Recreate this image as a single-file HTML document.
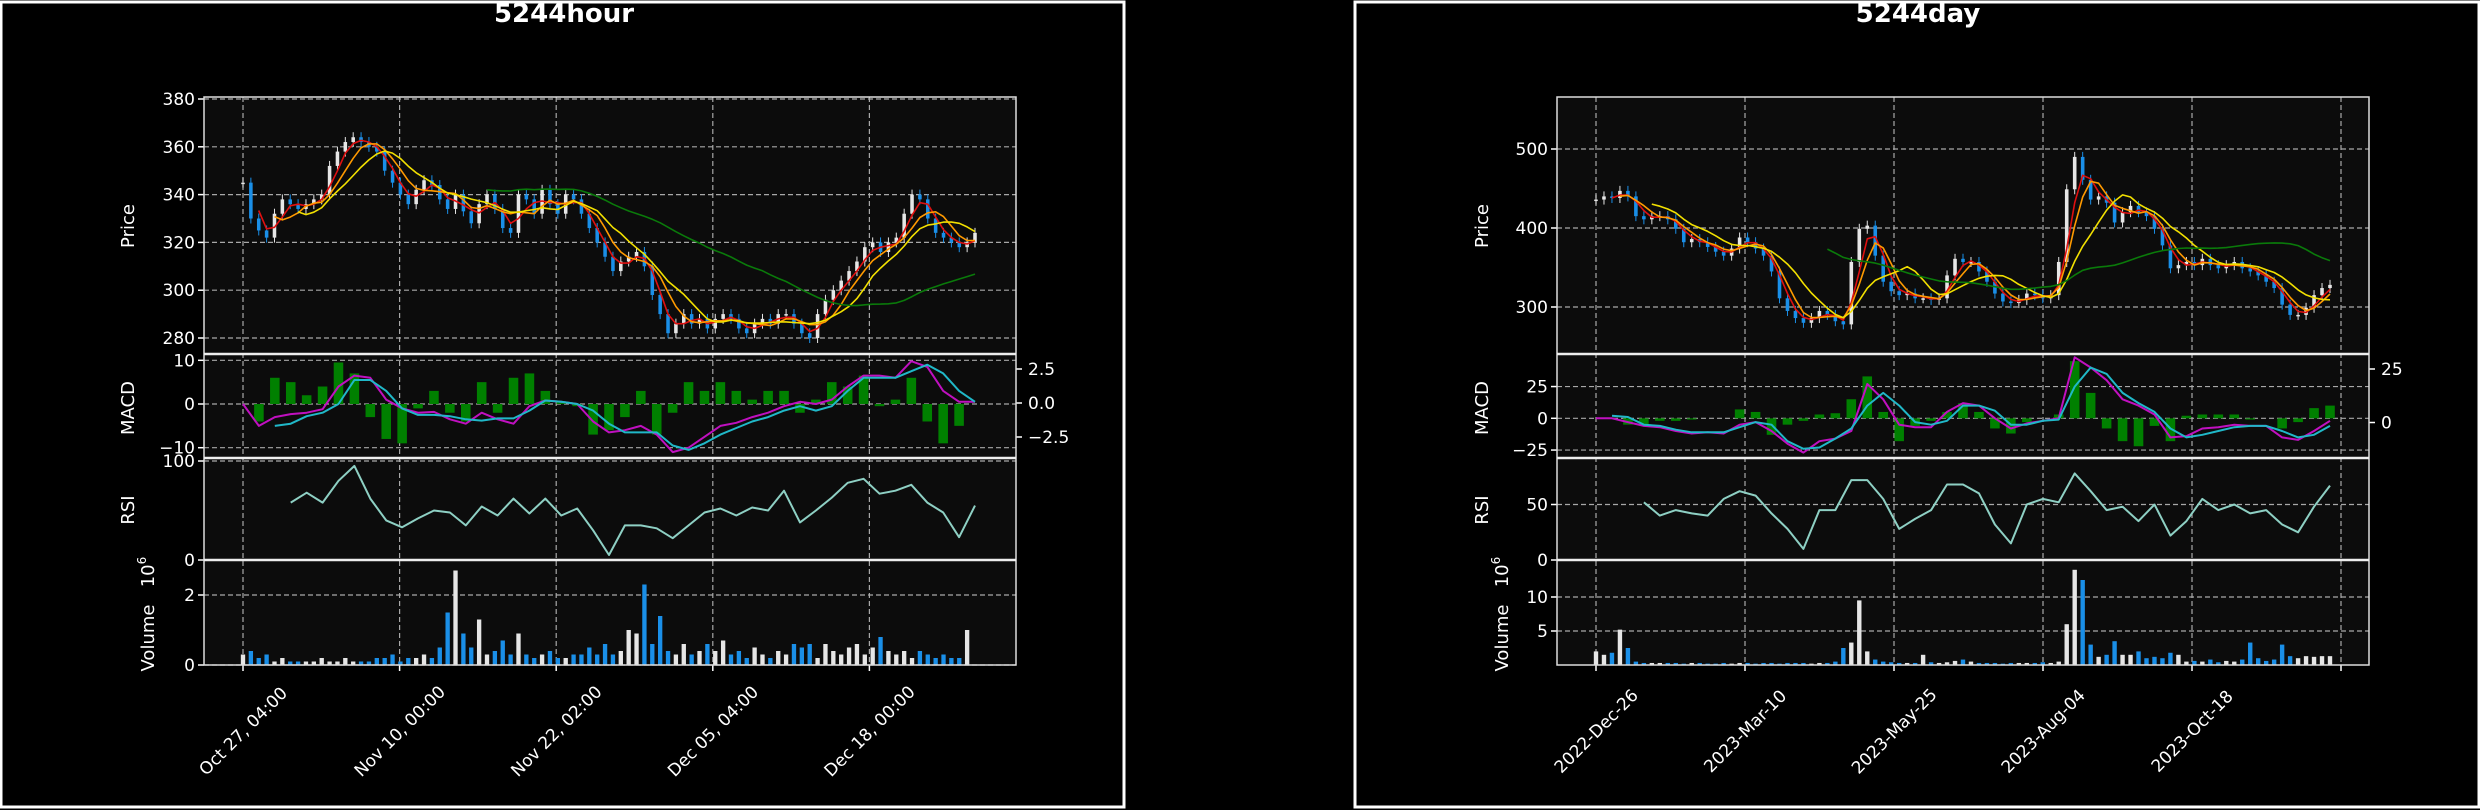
<!DOCTYPE html>
<html><head><meta charset="utf-8"><title>5244 charts</title>
<style>
html,body{margin:0;padding:0;background:#000;}
svg{display:block;font-family:"DejaVu Sans","Liberation Sans",sans-serif;}
</style></head>
<body>
<svg id="svg" width="2480" height="810" viewBox="0 0 2480 810" xmlns="http://www.w3.org/2000/svg">
<rect x="0" y="0" width="2480" height="810" fill="#000"/>
</svg>
<script>
// ---------- Hourly chart data ----------
const hClose=[345,330,325,322,332,338,336,334,336,338,340,352,358,362,364,362,360,358,350,345,340,336,342,346,344,338,334,340,333,328,336,340,334,326,324,340,338,332,342,336,332,340,338,332,326,320,314,308,312,314,316,310,298,290,282,286,290,286,288,284,288,290,288,284,282,286,288,286,290,290,286,282,280,290,296,300,304,308,312,318,320,316,320,322,332,340,338,330,324,322,320,318,320,324];
const hVol=[0.3,0.4,0.2,0.3,0.1,0.2,0.1,0.1,0.1,0.1,0.2,0.1,0.1,0.2,0.1,0.1,0.1,0.2,0.2,0.3,0.1,0.2,0.2,0.3,0.2,0.5,1.5,2.7,0.9,0.5,1.3,0.3,0.4,0.7,0.3,0.9,0.3,0.2,0.3,0.4,0.2,0.2,0.3,0.3,0.5,0.3,0.6,0.3,0.4,1.0,0.9,2.3,0.6,1.4,0.4,0.3,0.6,0.3,0.4,0.6,0.4,0.7,0.3,0.4,0.2,0.5,0.3,0.2,0.4,0.3,0.6,0.5,0.6,0.2,0.6,0.4,0.3,0.5,0.6,0.3,0.5,0.8,0.4,0.3,0.4,0.2,0.4,0.3,0.2,0.3,0.2,0.2,1.0];
const hMacd=[0,-5,-3,-2.3,-2,-1.2,4,6.5,6,1,-1,-2,-1.8,-3.5,-4.5,-2,-3.5,-4.5,-0.5,0.8,0.5,0,-4,-6.5,-6,-5,-7,-11,-10,-7.5,-5,-4.3,-3,-2,-0.5,0.5,0,1,4,6.5,6.5,6,9.8,8.5,3,0.5,0.5];
const hSignal=[null,null,-5,-4.5,-2.8,-2,0,5.5,5.5,3,-1,-2.5,-2.5,-2.8,-3.5,-3.8,-3.3,-3.3,-1.5,0.8,0.5,0,-1.5,-4.5,-6.5,-6.5,-6.5,-9.5,-10.5,-9,-7,-5.5,-4,-3,-1.5,-0.5,-1.5,-0.5,3,6,6,6,7.5,9,7,3,0.5];
const hHist=[0,-4,6,5,2,4,9.5,7,-3,-8,-9,-1,3,-2,-4,5,-2,6,7,3,0.5,-0.5,-7,-6,-3,3,-7,-2,5,3,5,3,1,3,3,-2,1,5,4,6.5,-0.5,1,6,-4,-9,-5,0];
const hRsi=[null,null,null,58,68,58,80,95,62,40,33,42,50,48,35,54,45,62,47,62,45,52,30,5,35,35,32,22,35,48,52,45,53,50,70,38,50,63,78,82,67,70,76,58,48,23,55];
const hXTicks=["Oct 27, 04:00","Nov 10, 00:00","Nov 22, 02:00","Dec 05, 04:00","Dec 18, 00:00"];
const hPriceTicks=[280,300,320,340,360,380];
const hMacdTicks=[-10,0,10];
const hMacdRTicks=["2.5","0.0","\u22122.5"];
const hRsiTicks=[0,100];
const hVolTicks=[0,2];

// ---------- Daily chart data ----------
const dClose=[436,440,438,447,440,415,411,415,415,411,399,382,386,382,376,370,365,374,388,382,374,365,345,311,295,286,280,286,295,290,282,278,357,399,403,365,332,320,315,317,311,311,309,311,340,361,357,357,345,332,317,307,305,309,317,315,311,315,357,449,490,461,436,440,432,407,420,428,420,415,399,378,349,353,357,353,361,353,349,353,357,349,345,340,332,324,303,290,290,299,315,324,328];
const dVol=[2.0,1.5,1.8,5.2,2.5,0.5,0.3,0.3,0.3,0.3,0.3,0.2,0.3,0.3,0.2,0.2,0.3,0.2,0.3,0.3,0.2,0.3,0.3,0.2,0.3,0.3,0.3,0.2,0.3,0.3,0.5,2.5,3.3,9.5,2.0,0.8,0.5,0.4,0.3,0.3,0.3,1.5,0.4,0.3,0.4,0.6,0.8,0.5,0.3,0.3,0.3,0.2,0.3,0.3,0.3,0.3,0.4,0.3,0.5,6.0,14.0,12.5,3.0,1.2,1.5,3.5,1.5,1.5,2.0,1.0,1.2,1.0,1.8,1.5,0.5,0.6,0.5,0.8,0.4,0.6,0.5,0.8,3.3,1.0,0.6,0.8,3.0,1.3,1.0,1.3,1.2,1.3,1.3];
const dMacd=[0,0,-3,-6,-7,-10,-12,-11,-12,-5,-3,-10,-20,-27,-18,-16,-10,27,15,-5,-7,-7,5,12,10,0,-8,-4,-2,0,48,40,30,15,10,3,-15,-14,-8,-7,-5,-6,-6,-15,-17,-10,-2];
const dSignal=[null,2,1,-5,-6,-9,-11,-11,-11,-7,-3,-5,-18,-24,-23,-16,-8,10,20,10,-3,-5,-2,10,10,6,-5,-5,-2,-1,25,40,35,20,12,5,-8,-15,-13,-10,-7,-6,-6,-10,-15,-13,-6];
const dHist=[0,0,-5,-5,-2,-2,-1,0,0,7,5,-13,-5,-2,3,4,15,33,5,-18,-6,-2,5,12,5,-8,-12,-3,0,3,45,20,-8,-18,-22,-6,-18,2,3,3,3,-1,0,-8,-3,8,10];
const dRsi=[null,null,null,52,40,45,42,40,55,62,58,42,28,10,45,45,72,72,55,28,37,45,68,68,60,32,15,50,55,52,78,62,45,48,35,50,22,35,55,45,50,42,45,32,25,48,67];
const dXTicks=["2022-Dec-26","2023-Mar-10","2023-May-25","2023-Aug-04","2023-Oct-18",""];
const dPriceTicks=[300,400,500];
const dMacdTicks=[-25,0,25];
const dMacdRTicks=["25","0"];
const dRsiTicks=[0,50];
const dVolTicks=[5,10];

const NS="http://www.w3.org/2000/svg";
const svg=document.getElementById('svg');
function mk(tag,attrs,parent){const e=document.createElementNS(NS,tag);for(const k in attrs)e.setAttribute(k,attrs[k]);(parent||svg).appendChild(e);return e;}
function txt(s,attrs,parent){const e=mk('text',attrs,parent);e.textContent=s;return e;}
function rolling(a,w){return a.map((v,i)=>{if(i<w-1)return null;let s=0;for(let j=i-w+1;j<=i;j++)s+=a[j];return s/w;});}

const P={price:[97,354],macd:[354,458],rsi:[458,560],vol:[560,665]};
const UP='#e6e6e6',DOWN='#1a8fe8';

function chart(c){
  const g=mk('g',{});
  
  
  const fr=mk('rect',{x:c.frame[0],y:2,width:c.frame[1]-c.frame[0],height:805,fill:'none',stroke:'#fff','stroke-width':3},g);
  
  
  const t=txt(c.title,{x:c.titleX,y:22,'text-anchor':'middle','font-size':26,'font-weight':'bold',fill:'#fff'},g);
  
  
  const L=c.ax[0],R=c.ax[1];
  for(const k in P){const r=mk('rect',{x:L,y:P[k][0],width:R-L,height:P[k][1]-P[k][0],fill:'#0c0c0c'},g);
    
    }
  const N=c.close.length;
  const xi=i=>c.x0+i*(c.x1-c.x0)/(N-1);
  const xk=(i,n)=>c.x0+i*(c.x1-c.x0)/(n-1);
  const grid=(x1,y1,x2,y2)=>{const l=mk('line',{x1,y1,x2,y2,stroke:'#a8a8a8','stroke-width':1.2,'stroke-dasharray':'5,3'},g);};
  c.xt.forEach((lab,i)=>{const x=c.xt0+i*c.xtStep;
    grid(x,97,x,665);
    mk('line',{x1:x,y1:665,x2:x,y2:671,stroke:'#fff','stroke-width':1.5},g);
    if(lab){const tl=txt(lab,{x:x,y:737,'text-anchor':'middle','font-size':17,fill:'#fff',transform:`rotate(-45 ${x} 731)`},g);
      
      }
  });
  const yTicks=(ticks,fy)=>{ticks.forEach((v)=>{const y=fy(v);
      grid(L,y,R,y);
      mk('line',{x1:L-6,y1:y,x2:L,y2:y,stroke:'#fff','stroke-width':1.5},g);
      const tl=txt(String(v).replace('-','\u2212'),{x:L-9,y:y+6,'text-anchor':'end','font-size':17,fill:'#fff'},g);
      
      
  });};
  const yP=c.yP,yM=c.yM,yRs=c.yR,yV=c.yV;
  yTicks(c.pt,yP);yTicks(c.mt,yM);yTicks(c.rt,yRs);yTicks(c.vt,yV);
  c.mrt.forEach((s,i)=>{const y=c.mrtY[i];
    mk('line',{x1:R,y1:y,x2:R+6,y2:y,stroke:'#fff','stroke-width':1.5},g);
    const tl=txt(s,{x:R+12,y:y+6,'font-size':17,fill:'#fff'},g);
    
    });
  const bw=Math.max(2,(c.x1-c.x0)/(N-1)*0.45);
  c.close.forEach((cl,i)=>{const op=i?c.close[i-1]:cl;const up=cl>=op;
    const y1=yP(Math.max(op,cl)),y2=yP(Math.min(op,cl));
    const col=up?UP:DOWN;
    const wk=mk('line',{x1:xi(i),x2:xi(i),y1:y1-5,y2:y2+5,stroke:col,'stroke-width':1},g);
    
    
    const b=mk('rect',{x:xi(i)-bw/2,y:y1,width:bw,height:Math.max(1.5,y2-y1),fill:col},g);
    
    
  });
  const line=(arr,xf,yf,col,w,name)=>{let d='',pen=false;arr.forEach((v,i)=>{if(v==null){pen=false;return;}d+=(pen?'L':'M')+xf(i).toFixed(1)+','+yf(v).toFixed(1);pen=true;});
    const p=mk('path',{d,fill:'none',stroke:col,'stroke-width':w,'stroke-linejoin':'round'},g);
    
    };
  const mac=['#e01010','#ff9a00','#f2e000','#0a7a0a'];
  c.maw.forEach((w,j)=>line(rolling(c.close,w),xi,yP,mac[j],1.6,'moving-average-'+w));
  const nh=c.hist.length;const hw=(c.x1-c.x0)/(nh-1)*0.6;
  c.hist.forEach((v,i)=>{const y0=yM(0),y=yM(v);
    const b=mk('rect',{x:xk(i,nh)-hw/2,y:Math.min(y0,y),width:hw,height:Math.abs(y-y0),fill:'#008000'},g);
    
    });
  line(c.macd,i=>xk(i,c.macd.length),yM,'#c010c0',2,'macd-line');
  line(c.signal,i=>xk(i,c.signal.length),yM,'#20b8c8',2,'signal-line');
  line(c.rsi,i=>xk(i,c.rsi.length),yRs,'#8ed0c4',2,'rsi-line');
  const vw=Math.max(2,(c.x1-c.x0)/(N-1)*0.55);
  c.vol.forEach((v,i)=>{const op=i?c.close[i-1]:c.close[i];const up=c.close[i]>=op;
    const b=mk('rect',{x:xi(i)-vw/2,y:yV(v),width:vw,height:yV(0)-yV(v),fill:up?UP:DOWN},g);
    
    });
  const br=mk('rect',{x:L,y:97,width:R-L,height:568,fill:'none',stroke:'#ddd','stroke-width':1.5},g);
  
  
  [354,458,560].forEach(y=>{const s=mk('line',{x1:L,y1:y,x2:R,y2:y,stroke:'#eee','stroke-width':2.5},g);
    
    });
  const lab=(s,x,y,name)=>{const e=txt(s,{x,y,'text-anchor':'middle','font-size':18,fill:'#fff',transform:`rotate(-90 ${x} ${y})`},g);
    
    };
  lab('Price',c.labX+6,226,'price-axis-title');
  lab('MACD',c.labX+6,408,'macd-axis-title');
  lab('RSI',c.labX+6,510,'rsi-axis-title');
  lab('Volume',c.labX+26,638,'volume-axis-title');
  const e=txt('10',{x:c.labX+26,y:572,'text-anchor':'middle','font-size':18,fill:'#fff',transform:`rotate(-90 ${c.labX+26} 572)`},g);
  
  
  const sp=mk('tspan',{'font-size':12,dy:-8},e);sp.textContent='6';
}

chart({name:'hourly-chart',title:'5244hour',titleX:564,frame:[1,1124],ax:[204,1016],x0:243,x1:975,
  xt:hXTicks,xt0:243,xtStep:156.6,close:hClose,vol:hVol,macd:hMacd,signal:hSignal,hist:hHist,rsi:hRsi,maw:[3,5,8,32],
  yP:p=>338-(p-280)*2.39,yM:v=>404-v*4.37,yR:v=>560-v*0.99,yV:v=>665-v*35,
  pt:hPriceTicks,mt:hMacdTicks,rt:hRsiTicks,vt:hVolTicks,mrt:hMacdRTicks,mrtY:[369,403,437],labX:128});
chart({name:'daily-chart',title:'5244day',titleX:1918,frame:[1355,2479],ax:[1557,2369],x0:1596,x1:2330,
  xt:dXTicks,xt0:1596,xtStep:149,close:dClose,vol:dVol,macd:dMacd,signal:dSignal,hist:dHist,rsi:dRsi,maw:[3,4,8,30],
  yP:p=>307-(p-300)*0.79,yM:v=>418.3-v*1.27,yR:v=>560-v*1.11,yV:v=>665-v*6.8,
  pt:dPriceTicks,mt:dMacdTicks,rt:dRsiTicks,vt:dVolTicks,mrt:dMacdRTicks,mrtY:[369,422.5],labX:1482});
</script>
</body></html>
